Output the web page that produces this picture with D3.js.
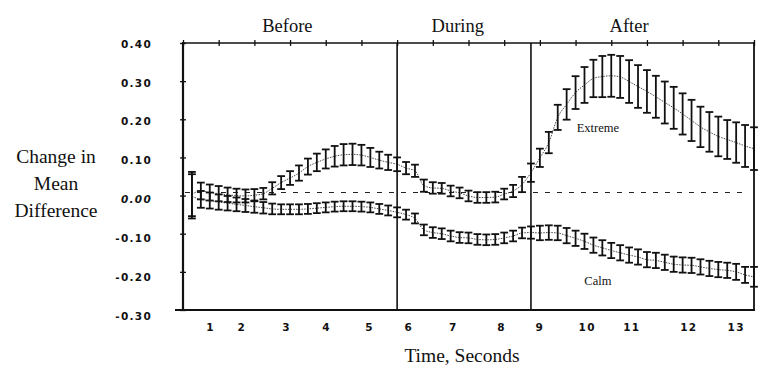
<!DOCTYPE html>
<html>
<head>
<meta charset="utf-8">
<script src="https://cdn.jsdelivr.net/npm/d3@7/dist/d3.min.js"></script>
<style>
  body { margin: 0; background: #fff; }
  svg { display: block; }
  .serif { font-family: "Liberation Serif", "Times New Roman", serif; fill: #111; }
  .tick-lbl { font-family: "DejaVu Sans", "Liberation Sans", sans-serif; font-weight: bold; font-size: 10.5px; letter-spacing: 1.3px; fill: #111; }
</style>
</head>
<body>
<svg id="chart" width="777" height="378"></svg>
<script>
// ---------- DATA ----------
const samples = [1,2,3,4,5,6,7,8,9,10,11,12,13,14,15,16,17,18,19,20,21,22,23,24,25,26,27,28,29,30,31,32,
  33,34,35,36,37,38,39,40,41,42,43,44,45,46,47,48,49,50,51,52,53,54,55,56,57,58,59,60,61,62,63,64];

const extremeMean = [0.004,0.012,0.008,0.005,0.002,0.000,-0.001,0.001,0.005,0.019,0.034,0.046,0.059,0.076,0.087,0.096,
  0.103,0.107,0.108,0.106,0.100,0.093,0.087,0.082,0.072,0.065,0.026,0.020,0.019,0.012,0.007,-0.001,
  -0.005,-0.005,-0.004,0.004,0.012,0.029,0.060,0.099,0.139,0.205,0.239,0.270,0.290,0.307,0.312,0.314,
  0.311,0.299,0.286,0.273,0.259,0.244,0.230,0.214,0.197,0.180,0.167,0.155,0.147,0.139,0.130,0.123];
const extremeErr = [0.058,0.022,0.021,0.020,0.019,0.018,0.017,0.016,0.015,0.016,0.017,0.018,0.020,0.021,0.023,0.025,
  0.027,0.028,0.028,0.027,0.025,0.022,0.020,0.018,0.016,0.016,0.016,0.015,0.014,0.014,0.014,0.014,
  0.014,0.014,0.014,0.014,0.016,0.020,0.024,0.024,0.028,0.033,0.040,0.043,0.047,0.049,0.054,0.055,
  0.055,0.056,0.056,0.056,0.055,0.055,0.055,0.054,0.054,0.053,0.052,0.052,0.051,0.053,0.055,0.056];

const calmMean = [-0.002,-0.010,-0.013,-0.017,-0.020,-0.023,-0.026,-0.029,-0.032,-0.035,-0.036,-0.036,-0.036,-0.035,-0.033,-0.031,
  -0.029,-0.028,-0.028,-0.029,-0.031,-0.035,-0.039,-0.044,-0.050,-0.060,-0.090,-0.097,-0.100,-0.106,-0.110,-0.111,
  -0.115,-0.116,-0.115,-0.111,-0.106,-0.098,-0.097,-0.098,-0.097,-0.098,-0.105,-0.112,-0.120,-0.130,-0.137,-0.144,
  -0.150,-0.156,-0.161,-0.168,-0.170,-0.175,-0.180,-0.182,-0.183,-0.187,-0.191,-0.194,-0.196,-0.200,-0.208,-0.213];
const calmErr = [0.058,0.022,0.021,0.020,0.019,0.018,0.017,0.016,0.015,0.014,0.013,0.013,0.013,0.013,0.013,0.013,
  0.013,0.013,0.013,0.013,0.013,0.013,0.013,0.013,0.013,0.013,0.014,0.014,0.014,0.014,0.014,0.014,
  0.014,0.014,0.014,0.014,0.014,0.014,0.016,0.019,0.019,0.019,0.020,0.020,0.020,0.020,0.020,0.020,
  0.020,0.020,0.020,0.020,0.020,0.020,0.020,0.020,0.020,0.020,0.020,0.020,0.020,0.021,0.021,0.026];

const yTicks = [0.40, 0.30, 0.20, 0.10, 0.00, -0.10, -0.20, -0.30];
const yTickLabels = ["0.40", "0.30", "0.20", "0.10", "0.00", "-0.10", "-0.20", "-0.30"];
const topTicks = [0,4,8,12,16,20,24,28,32,36,40,44,48,52,56,60,64];
// bottom labels (seconds) and where they sit, in sample units
const timeLabels = ["1","2","3","4","5","6","7","8","9","10","11","12","13"];
const timeLabelPos = [3.1,6.6,11.6,16.1,20.9,25.3,30.3,35.7,40.0,45.3,50.3,56.7,62.0];
const phases = ["Before", "During", "After"];
const phaseCenters = [11.7, 30.8, 50.0];
const dividers = [24, 39];
const baseline = 0.008;

// ---------- SCALES ----------
const svg = d3.select("#chart");
const x = d3.scaleLinear().domain([0, 64]).range([183, 754]);
const y = d3.scaleLinear().domain([0.40, -0.30]).range([43, 310]);
const yLbl = d3.scaleLinear().domain([0.40, -0.30]).range([44, 316]);

// ---------- FRAME ----------
const g = svg.append("g");
// top axis
const topAxis = g.append("g").attr("transform", `translate(0,${y(0.40)})`)
  .call(d3.axisTop(x).tickValues(topTicks).tickSize(3).tickFormat(""));
topAxis.select(".domain").remove();
topAxis.selectAll(".tick line").attr("y1", -3).attr("y2", 3).attr("stroke", "#111").attr("stroke-width", 1.3);
g.append("line").attr("x1", x(0)).attr("x2", x(64)).attr("y1", y(0.40)).attr("y2", y(0.40))
  .attr("stroke", "#111").attr("stroke-width", 1.6);

// left axis
const leftAxis = g.append("g").attr("transform", `translate(${x(0)},0)`)
  .call(d3.axisLeft(y).tickValues(yTicks).tickSize(3).tickFormat(""));
leftAxis.select(".domain").remove();
leftAxis.selectAll(".tick line").attr("x1", -3).attr("x2", 3).attr("stroke", "#111").attr("stroke-width", 1.3);
g.append("line").attr("x1", x(0)).attr("x2", x(0)).attr("y1", y(0.40) - 1).attr("y2", y(-0.30) + 1)
  .attr("stroke", "#111").attr("stroke-width", 2.2);
// right edge
g.append("line").attr("x1", x(64)).attr("x2", x(64)).attr("y1", y(0.40) - 1).attr("y2", y(-0.30) + 1)
  .attr("stroke", "#111").attr("stroke-width", 1.8);
// bottom
g.append("line").attr("x1", x(0) - 8).attr("x2", x(64) + 1).attr("y1", y(-0.30)).attr("y2", y(-0.30))
  .attr("stroke", "#111").attr("stroke-width", 2);

// y tick labels
g.selectAll("text.ylab").data(yTicks).join("text")
  .attr("class", "tick-lbl ylab")
  .attr("x", 152).attr("y", d => yLbl(d)).attr("dy", "0.35em")
  .attr("text-anchor", "end")
  .style("font-style", (d) => d === 0 ? "italic" : "normal")
  .text((d, i) => yTickLabels[i]);

// dividers
g.selectAll("line.div").data(dividers).join("line")
  .attr("x1", d => x(d)).attr("x2", d => x(d)).attr("y1", y(0.40)).attr("y2", y(-0.30))
  .attr("stroke", "#111").attr("stroke-width", 1.6);

// baseline dashed
g.append("line").attr("x1", x(0) + 2).attr("x2", x(64) - 8).attr("y1", y(baseline)).attr("y2", y(baseline))
  .attr("stroke", "#222").attr("stroke-width", 1.1).attr("stroke-dasharray", "5,7");

// phases
g.selectAll("text.phase").data(phases).join("text")
  .attr("class", "serif phase").attr("font-size", 18.5)
  .attr("x", (d, i) => x(phaseCenters[i])).attr("y", 32).attr("text-anchor", "middle").text(d => d);

// bottom time labels
g.selectAll("text.tlab").data(timeLabels).join("text")
  .attr("class", "tick-lbl tlab")
  .attr("x", (d, i) => x(timeLabelPos[i])).attr("y", 331).attr("text-anchor", "middle").text(d => d);

// axis titles
const ytitle = ["Change in", "Mean", "Difference"];
g.selectAll("text.ytitle").data(ytitle).join("text")
  .attr("class", "serif ytitle").attr("font-size", 19.5)
  .attr("x", 56).attr("y", (d, i) => 163 + i * 27).attr("text-anchor", "middle").text(d => d);
g.append("text").attr("class", "serif").attr("font-size", 19.5)
  .attr("x", 462).attr("y", 362).attr("text-anchor", "middle").text("Time, Seconds");

// ---------- SERIES ----------
function drawSeries(means, errs) {
  const data = samples.map((s, i) => ({ s, m: means[i], e: errs[i] }));
  const line = d3.line().x(d => x(d.s)).y(d => y(d.m)).curve(d3.curveMonotoneX);
  g.append("path").datum(data).attr("d", line).attr("fill", "none")
    .attr("stroke", "#333").attr("stroke-width", 0.9).attr("stroke-dasharray", "1.5,1.2");
  const cap = 3.9;
  const bars = g.append("g").attr("stroke", "#111").attr("stroke-width", 1.8);
  bars.selectAll("line.v").data(data).join("line")
    .attr("x1", d => x(d.s)).attr("x2", d => x(d.s))
    .attr("y1", d => y(d.m + d.e)).attr("y2", d => y(d.m - d.e));
  bars.selectAll("line.t").data(data).join("line")
    .attr("x1", d => x(d.s) - cap).attr("x2", d => x(d.s) + cap)
    .attr("y1", d => y(d.m + d.e)).attr("y2", d => y(d.m + d.e));
  bars.selectAll("line.b").data(data).join("line")
    .attr("x1", d => x(d.s) - cap).attr("x2", d => x(d.s) + cap)
    .attr("y1", d => y(d.m - d.e)).attr("y2", d => y(d.m - d.e));
}
drawSeries(extremeMean, extremeErr);
drawSeries(calmMean, calmErr);

// series labels
g.append("text").attr("class", "serif").attr("font-size", 12.5)
  .attr("x", x(46.5)).attr("y", 132).attr("text-anchor", "middle").text("Extreme");
g.append("text").attr("class", "serif").attr("font-size", 12.5)
  .attr("x", x(46.5)).attr("y", 285).attr("text-anchor", "middle").text("Calm");
</script>
</body>
</html>
